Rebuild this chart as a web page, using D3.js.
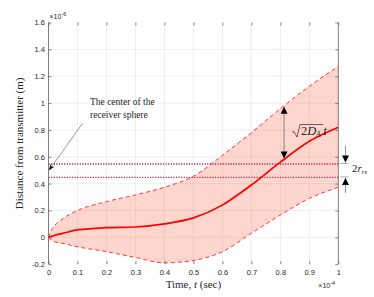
<!DOCTYPE html>
<html>
<head>
<meta charset="utf-8">
<script src="https://cdn.jsdelivr.net/npm/d3@7.9.0/dist/d3.min.js"></script>
<style>
  body { margin: 0; background: #fff; }
  svg { display: block; }
  .tick text { font-family: "Liberation Sans", Arial, sans-serif; font-size: 7.5px; fill: #262626; }
  .serif { font-family: "Liberation Serif", "Times New Roman", serif; fill: #262626; }
</style>
</head>
<body>
<svg id="chart" width="374" height="297"></svg>
<script>
// time in units of 1e-4 s, distance in units of 1e-6 m
const tVals  = [0, 0.01, 0.02, 0.05, 0.1, 0.2, 0.3, 0.4, 0.5, 0.6, 0.7, 0.8, 0.9, 1.0];
const meanD  = [0, 0.007, 0.014, 0.03, 0.055, 0.072, 0.077, 0.10, 0.145, 0.24, 0.39, 0.56, 0.715, 0.82];
const upperD = [0, 0.055, 0.085, 0.14, 0.20, 0.266, 0.316, 0.373, 0.455, 0.61, 0.78, 0.958, 1.125, 1.274];
const lowerD = [0, -0.02, -0.032, -0.045, -0.07, -0.107, -0.15, -0.19, -0.172, -0.107, 0.03, 0.166, 0.29, 0.373];
const xTicks = [0, 0.1, 0.2, 0.3, 0.4, 0.5, 0.6, 0.7, 0.8, 0.9, 1];
const yTicks = [-0.2, 0, 0.2, 0.4, 0.6, 0.8, 1, 1.2, 1.4, 1.6];
const sphereLevels = [0.55, 0.45];   // receiver sphere edges
const sphereCenter = 0.5;
const arrowT = 0.813;                 // where the sqrt(2Dt) arrow sits

const svg = d3.select("#chart");
const x = d3.scaleLinear().domain([0, 1]).range([48.5, 338.3]);
const y = d3.scaleLinear().domain([-0.2, 1.6]).range([264.2, 22.5]);
const fmt = d => String(+d.toFixed(1));

// arrowheads
const defs = svg.append("defs");
defs.append("marker").attr("id", "tri")
  .attr("viewBox", "0 0 10 10").attr("refX", 10).attr("refY", 5)
  .attr("markerWidth", 7).attr("markerHeight", 7).attr("markerUnits", "userSpaceOnUse")
  .attr("orient", "auto-start-reverse")
  .append("path").attr("d", "M0,0 L10,5 L0,10 Z").attr("fill", "#000");
defs.append("marker").attr("id", "small")
  .attr("viewBox", "0 0 10 10").attr("refX", 10).attr("refY", 5)
  .attr("markerWidth", 6).attr("markerHeight", 6).attr("markerUnits", "userSpaceOnUse")
  .attr("orient", "auto")
  .append("path").attr("d", "M0,1 L10,5 L0,9 L3,5 Z").attr("fill", "#000");

// grid
const grid = svg.append("g").attr("stroke", "#e3e3e3").attr("stroke-width", 0.6);
grid.selectAll(".gx").data(xTicks.slice(1, -1)).join("line")
  .attr("x1", d => x(d)).attr("x2", d => x(d)).attr("y1", y(1.6)).attr("y2", y(-0.2));
grid.selectAll(".gy").data(yTicks.slice(1, -1)).join("line")
  .attr("y1", d => y(d)).attr("y2", d => y(d)).attr("x1", x(0)).attr("x2", x(1));

// band
const rows = tVals.map((t, i) => ({ t, m: meanD[i], u: upperD[i], l: lowerD[i] }));
svg.append("path").datum(rows)
  .attr("fill", "rgb(250,105,70)").attr("fill-opacity", 0.27)
  .attr("d", d3.area().x(d => x(d.t)).y0(d => y(d.l)).y1(d => y(d.u)).curve(d3.curveMonotoneX));

["u", "l"].forEach(k => {
  svg.append("path").datum(rows)
    .attr("fill", "none").attr("stroke", "#ff2020").attr("stroke-width", 0.9)
    .attr("stroke-dasharray", "4,3")
    .attr("d", d3.line().x(d => x(d.t)).y(d => y(d[k])).curve(d3.curveMonotoneX));
});

svg.append("path").datum(rows)
  .attr("fill", "none").attr("stroke", "#ff0000").attr("stroke-width", 1.7)
  .attr("d", d3.line().x(d => x(d.t)).y(d => y(d.m)).curve(d3.curveMonotoneX));

// receiver sphere edges
svg.selectAll(".lvl").data(sphereLevels).join("line")
  .attr("x1", x(0)).attr("x2", x(1)).attr("y1", d => y(d) + 0.5).attr("y2", d => y(d) + 0.5)
  .attr("stroke", "#b8204a").attr("stroke-width", 1.3).attr("stroke-dasharray", "1.2,1.4");

// axes
svg.append("g").attr("transform", `translate(0,${y(-0.2)})`)
  .call(d3.axisBottom(x).tickValues(xTicks).tickFormat(fmt).tickSize(-3).tickPadding(5));
svg.append("g").attr("transform", `translate(0,${y(1.6)})`)
  .call(d3.axisTop(x).tickValues(xTicks).tickFormat("").tickSize(-3));
svg.append("g").attr("transform", `translate(${x(0)},0)`)
  .call(d3.axisLeft(y).tickValues(yTicks).tickFormat(fmt).tickSize(-3).tickPadding(3.5));
svg.append("g").attr("transform", `translate(${x(1)},0)`)
  .call(d3.axisRight(y).tickValues(yTicks).tickFormat("").tickSize(-3));
svg.selectAll(".domain").remove();
svg.selectAll(".tick line").attr("stroke", "#555").attr("stroke-width", 0.7);
[0, 1].forEach(v => svg.append("line")
  .attr("x1", x(v)).attr("x2", x(v)).attr("y1", y(1.6)).attr("y2", y(-0.2))
  .attr("stroke", "#6e6e6e").attr("stroke-width", 0.9));

// exponent labels
const e6 = svg.append("text").attr("x", x(0) + 1).attr("y", 19)
  .attr("font-family", "Liberation Sans, Arial, sans-serif").attr("font-size", 7).attr("fill", "#262626");
e6.append("tspan").text("×10");
e6.append("tspan").attr("dy", -3).attr("font-size", 5.5).text("-6");
const e4 = svg.append("text").attr("x", x(1) - 20).attr("y", 288)
  .attr("font-family", "Liberation Sans, Arial, sans-serif").attr("font-size", 7).attr("fill", "#262626");
e4.append("tspan").text("×10");
e4.append("tspan").attr("dy", -3).attr("font-size", 5.5).text("-4");

// axis titles
const xl = svg.append("text").attr("class", "serif").attr("x", (x(0) + x(1)) / 2).attr("y", 288)
  .attr("text-anchor", "middle").attr("font-size", 11);
xl.append("tspan").text("Time, ");
xl.append("tspan").attr("font-style", "italic").text("t");
xl.append("tspan").text(" (sec)");
svg.append("text").attr("class", "serif")
  .attr("transform", `translate(23,${(y(1.6) + y(-0.2)) / 2}) rotate(-90)`)
  .attr("text-anchor", "middle").attr("font-size", 11)
  .text("Distance from transmitter (m)");

// "center of the receiver sphere" note
svg.append("line")
  .attr("x1", x(0.118)).attr("y1", y(0.85)).attr("x2", x(0) + 0.5).attr("y2", y(sphereCenter))
  .attr("stroke", "#555").attr("stroke-width", 0.6).attr("marker-end", "url(#small)");
const note = svg.append("text").attr("class", "serif").attr("font-size", 9.5);
note.append("tspan").attr("x", 90).attr("y", 105).text("The center of the");
note.append("tspan").attr("x", 90).attr("y", 118).text("receiver sphere");

// sqrt(2 D_A t) arrow
const aMean = meanD[11] + (meanD[12] - meanD[11]) * (arrowT - 0.8) / 0.1;
const aUp = upperD[11] + (upperD[12] - upperD[11]) * (arrowT - 0.8) / 0.1;
svg.append("line")
  .attr("x1", x(arrowT)).attr("x2", x(arrowT)).attr("y1", y(aUp) + 1).attr("y2", y(aMean) - 1)
  .attr("stroke", "#777").attr("stroke-width", 0.9)
  .attr("marker-start", "url(#tri)").attr("marker-end", "url(#tri)");
const sq = svg.append("g").attr("class", "serif");
const st = sq.append("text").attr("x", 301).attr("y", 134.5).attr("font-size", 12.5);
st.append("tspan").text("2");
st.append("tspan").attr("font-style", "italic").text("D");
st.append("tspan").attr("font-style", "italic").attr("font-size", 8).attr("dy", 2.5).attr("dx", -0.5).text("A");
st.append("tspan").attr("font-style", "italic").attr("dy", -2.5).attr("dx", 2.5).text("t");
const sb = st.node().getBBox();
sq.append("path")
  .attr("d", `M${sb.x - 9},${sb.y + 9} L${sb.x - 7},${sb.y + 8} L${sb.x - 4},${sb.y + sb.height - 2} L${sb.x - 1},${sb.y + 1} L${sb.x + sb.width - 4},${sb.y + 1}`)
  .attr("fill", "none").attr("stroke", "#262626").attr("stroke-width", 0.7);

// 2 r_rx dimension marks
const rx = 345.5;
svg.append("line").attr("x1", rx).attr("x2", rx).attr("y1", y(sphereLevels[0]) - 18).attr("y2", y(sphereLevels[0]) - 1)
  .attr("stroke", "#888").attr("stroke-width", 0.9).attr("marker-end", "url(#tri)");
svg.append("line").attr("x1", rx).attr("x2", rx).attr("y1", y(sphereLevels[1]) + 16).attr("y2", y(sphereLevels[1]) + 1)
  .attr("stroke", "#888").attr("stroke-width", 0.9).attr("marker-end", "url(#tri)");
svg.selectAll(".bar").data(sphereLevels).join("line")
  .attr("x1", rx - 5).attr("x2", rx + 3).attr("y1", d => y(d)).attr("y2", d => y(d))
  .attr("stroke", "#888").attr("stroke-width", 0.7);
const rl = svg.append("text").attr("class", "serif").attr("x", 352).attr("y", 172).attr("font-size", 11);
rl.append("tspan").text("2");
rl.append("tspan").attr("font-style", "italic").text("r");
rl.append("tspan").attr("font-style", "italic").attr("font-size", 6.5).attr("dy", 2).text("rx");
</script>
</body>
</html>
